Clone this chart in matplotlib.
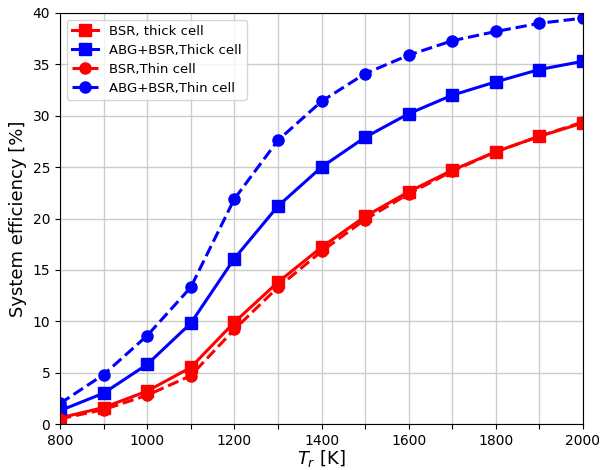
import matplotlib
matplotlib.use('Agg')
import matplotlib.pyplot as plt
import numpy as np

Tr = [800, 900, 1000, 1100, 1200, 1300, 1400, 1500, 1600, 1700, 1800, 1900, 2000]

bsr_thick = [0.6, 1.6, 3.2, 5.5, 9.9, 13.8, 17.2, 20.2, 22.6, 24.7, 26.5, 28.0, 29.3]
abg_thick = [1.3, 3.0, 5.8, 9.8, 16.1, 21.2, 25.0, 27.9, 30.2, 32.0, 33.3, 34.5, 35.3]
bsr_thin = [0.5, 1.4, 2.8, 4.7, 9.2, 13.3, 16.8, 19.9, 22.4, 24.6, 26.5, 28.0, 29.4]
abg_thin = [2.0, 4.8, 8.6, 13.3, 21.9, 27.6, 31.4, 34.1, 35.9, 37.3, 38.2, 39.0, 39.5]

fig = plt.figure(figsize=(6.07, 4.70), dpi=100)
ax = fig.add_axes([60/607, 46/470, 523/607, 411/470])

ax.plot(Tr, bsr_thick, 'rs-', lw=2.2, ms=8, label='BSR, thick cell')
ax.plot(Tr, abg_thick, 'bs-', lw=2.2, ms=8, label='ABG+BSR,Thick cell')
ax.plot(Tr, bsr_thin, 'ro--', lw=2.2, ms=8, label='BSR,Thin cell')
ax.plot(Tr, abg_thin, 'bo--', lw=2.2, ms=8, label='ABG+BSR,Thin cell')

ax.set_xlim(800, 2000)
ax.set_ylim(0, 40)
ax.set_xticks(np.arange(800, 2001, 100))
ax.set_xticklabels([str(t) if t % 200 == 0 else '' for t in range(800, 2001, 100)])
ax.tick_params(labelsize=10)
ax.grid(True, color='#cccccc', lw=1)
ax.set_xlabel('$T_r$ [K]', fontsize=13, labelpad=0)
ax.set_ylabel('System efficiency [%]', fontsize=13)
ax.legend(loc='upper left', fontsize=9.5, labelspacing=0.45)

plt.savefig('out.png', dpi=100)
